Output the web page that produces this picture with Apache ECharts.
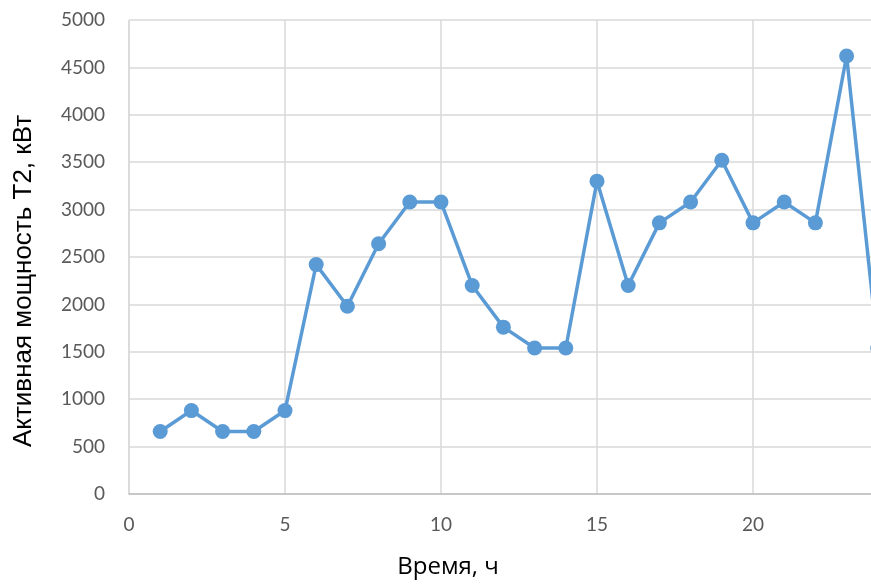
<!DOCTYPE html>
<html>
<head>
<meta charset="utf-8">
<script src="https://cdn.jsdelivr.net/npm/echarts@6/dist/echarts.min.js"></script>
<style>html,body{margin:0;padding:0;background:#fff;}#c{width:871px;height:586px;}</style>
</head>
<body>
<div id="c"></div>
<script>
const hours = [1,2,3,4,5,6,7,8,9,10,11,12,13,14,15,16,17,18,19,20,21,22,23,24];
const power = [660,880,660,660,880,2420,1980,2640,3080,3080,2200,1760,1540,1540,3300,2200,2860,3080,3520,2860,3080,2860,4620,1540];
const xTitle = 'Время, ч';
const yTitle = 'Активная мощность Т2, кВт';

const chart = echarts.init(document.getElementById('c'), null, {renderer: 'canvas'});
const font = 'Lato';
chart.setOption({
  animation: false,
  backgroundColor: '#ffffff',
  grid: {left: 129, top: 20, height: 474, width: 780, containLabel: false, outerBoundsMode: 'none'},
  xAxis: {
    type: 'value', min: 0, max: 25, interval: 5,
    axisLine: {show: true, lineStyle: {color: '#bfbfbf', width: 1.5}},
    axisTick: {show: false},
    axisLabel: {margin: 21, color: '#595959', fontSize: 19, fontFamily: font, formatter: v => String(v)},
    splitLine: {show: true, lineStyle: {color: '#d9d9d9', width: 1.5}}
  },
  yAxis: {
    type: 'value', min: 0, max: 5000, interval: 500,
    axisLine: {show: false},
    axisTick: {show: false},
    axisLabel: {margin: 24, color: '#595959', fontSize: 19, fontFamily: font, formatter: v => String(v)},
    splitLine: {show: true, lineStyle: {color: '#d9d9d9', width: 1.5}}
  },
  graphic: [{
    type: 'text', x: 448, y: 567,
    style: {text: xTitle, align: 'center', verticalAlign: 'middle', fill: '#000', font: '24px "Open Sans"'}
  }, {
    type: 'text', x: 24, y: 281, rotation: Math.PI / 2,
    style: {text: yTitle, align: 'center', verticalAlign: 'middle', fill: '#000', font: '26px "Liberation Sans"'}
  }, {
    type: 'line', shape: {x1: 129, y1: 20, x2: 129, y2: 494}, style: {stroke: '#d9d9d9', lineWidth: 1.5}, z: 0
  }],
  series: [{
    type: 'line',
    data: hours.map((h, i) => [h, power[i]]),
    symbol: 'circle', symbolSize: 15,
    lineStyle: {color: '#5b9bd5', width: 3.5},
    itemStyle: {color: '#5b9bd5'},
    clip: false
  }]
});
</script>
</body>
</html>
